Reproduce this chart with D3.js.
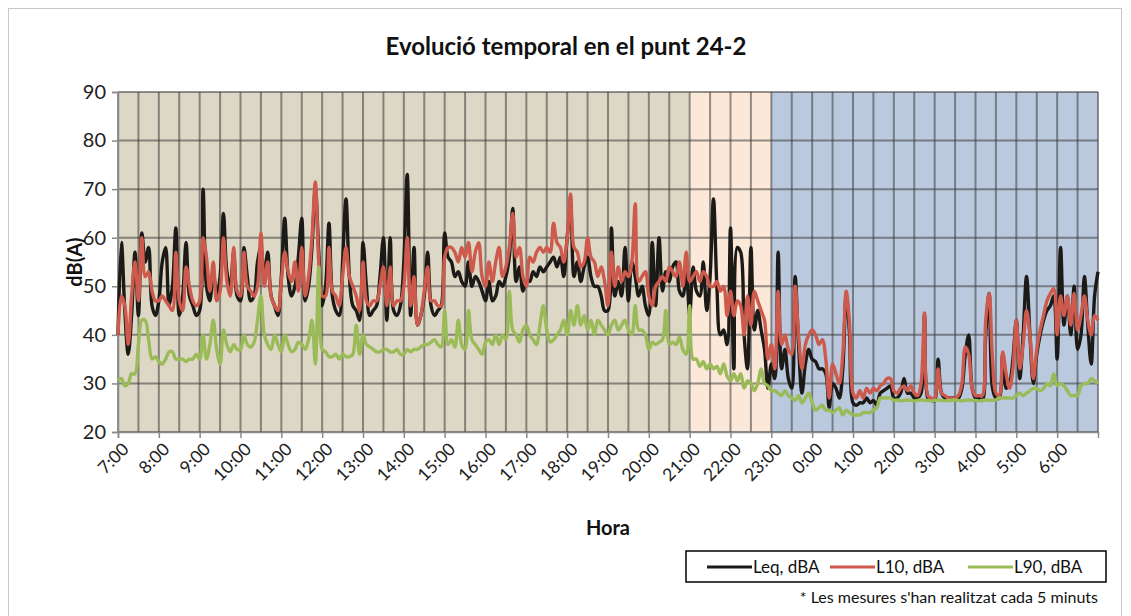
<!DOCTYPE html>
<html>
<head>
<meta charset="utf-8">
<script src="https://cdn.jsdelivr.net/npm/d3@7"></script>
<style>
  body { margin: 0; background: #fff; }
  svg { display: block; font-family: Lato, "Open Sans", sans-serif; }
</style>
</head>
<body>
<div id="chart"></div>
<script>
// hourly labels, one every 12 readings (5 min each)
const hourLabels = ['7:00', '8:00', '9:00', '10:00', '11:00', '12:00', '13:00', '14:00', '15:00',
  '16:00', '17:00', '18:00', '19:00', '20:00', '21:00', '22:00', '23:00', '0:00', '1:00', '2:00',
  '3:00', '4:00', '5:00', '6:00'];
const yTicks = [20, 30, 40, 50, 60, 70, 80, 90];

// periods as reading indexes (day 7-21h, evening 21-23h, night 23-7h)
const periodNames = ['dia', 'vespre', 'nit'];
const periodStart = [0, 168, 192];
const periodEnd = [168, 192, 288];

const seriesNames = ['Leq, dBA', 'L10, dBA', 'L90, dBA'];

const leq = [
  40, 59, 45, 36, 44, 57, 44, 61, 55, 58, 46, 44,
  47, 55, 58, 46, 50, 62, 44, 48, 59, 48, 46, 44,
  45, 70, 50, 47, 53, 48, 52, 65, 53, 50, 57, 48,
  47, 58, 52, 47, 48, 55, 58, 52, 57, 48, 46, 44,
  52, 64, 52, 48, 50, 56, 64, 47, 50, 58, 70, 57,
  46, 50, 63, 48, 45, 44, 55, 68, 52, 46, 45, 43,
  59, 50, 44, 45, 46, 52, 60, 43, 60, 45, 44, 46,
  55, 73, 44, 58, 42, 44, 48, 57, 46, 44, 45, 46,
  61, 56, 55, 52, 53, 51, 50, 55, 50, 52, 51, 49,
  47, 51, 47, 48, 51, 50, 52, 56, 66, 51, 54, 49,
  51, 51, 53, 52, 54, 53, 54, 55, 56, 54, 56, 52,
  60, 66, 52, 55, 51, 54, 56, 52, 50, 50, 48, 45,
  45, 62, 48, 51, 48, 58, 47, 55, 52, 48, 50, 46,
  44, 59, 46, 60, 49, 53, 51, 54, 55, 49, 48, 53,
  44, 54, 49, 48, 55, 45, 52, 68, 50, 40, 41, 38,
  62, 33, 58, 57, 40, 33, 58, 41, 45, 41, 37, 29,
  34, 31, 57, 33, 37, 31, 29, 52, 38, 28, 34, 37,
  35, 34.5, 33, 33, 32, 25, 30, 29, 27, 33, 48, 40,
  26, 25.5, 26, 26, 27, 26, 26.5, 25.5, 28, 28.5, 29, 29.5,
  27, 27, 28, 31, 28, 28, 27, 27, 28, 44, 27, 26.5,
  26.5, 35, 28, 27, 27, 27, 27, 27, 29, 36, 40, 29,
  27, 27, 26.5, 40, 48.5, 29, 27, 27, 36, 29, 30, 35,
  43, 31, 40, 52, 40, 30, 36, 40, 43, 45, 46, 48,
  35, 58, 42, 48, 40, 50, 37, 40, 52, 42, 34, 48, 53
];

const l10 = [
  40, 48, 46, 38, 48, 55, 47, 60, 52, 53, 49, 47,
  47, 48, 47, 46, 45, 57, 47, 45, 54, 50, 47, 46,
  47, 60, 56, 49, 55, 47, 49, 60, 51, 48, 58, 49,
  48, 57, 50, 49, 48, 50, 61, 50, 55, 48, 46, 45,
  51, 57, 53, 51, 55, 49, 58, 48, 52, 60, 71.5, 55,
  48, 48, 58, 49, 48, 46, 52, 58, 52, 50, 48, 45,
  55, 47, 46, 47, 47, 50, 54, 46, 54, 46, 47, 47,
  50, 60, 46, 52, 42, 44, 49, 54, 47, 47, 46, 46,
  56, 58, 58, 57, 55, 58, 56, 59, 53, 57, 59, 52,
  50, 55, 51, 55, 58, 52, 54, 58, 65, 56, 58, 52,
  50, 56, 55, 57, 58, 57, 58, 57, 63, 59, 58, 55,
  60, 69, 58, 57, 54, 55, 60, 56, 55, 52, 54, 51,
  46, 57, 50, 54, 51, 53, 52, 55, 67, 51, 52, 53,
  48, 46, 50, 51, 52, 51, 54, 53, 52, 55, 50, 57,
  51, 52, 53, 51, 53, 52, 50, 50, 51, 49, 50, 44,
  49, 44, 47, 46, 40, 48, 42, 49, 47, 45, 43, 35,
  38, 33, 49, 38, 40, 37, 36, 50, 40, 33, 38, 40,
  41, 40, 38, 39, 35, 27, 34, 32, 30, 36, 49, 42,
  28, 27, 28.5, 27, 29, 28, 29, 28.5, 29.5, 30, 31, 31,
  28.5, 28, 29, 29.5, 28.5, 29.5, 28, 27.5, 30, 44.5, 27.5, 27,
  27, 33, 28, 27.5, 27, 27, 27, 27.5, 30, 37.5, 36, 29,
  27.5, 27.5, 27.5, 43, 48.5, 35, 28, 27.5, 36.5, 32, 29, 33,
  43, 33, 38, 45, 40, 31, 37, 41, 44, 47, 48.5, 49.5,
  40, 48, 44, 48, 42, 48.5, 41, 44, 48, 43, 40, 44, 43
];

const l90 = [
  30.5, 31, 29.5, 30, 32, 32, 38, 43, 43, 39, 35, 35.5,
  34.5, 34, 35, 36.5, 36.5, 35, 35, 35, 34.5, 35, 35, 36,
  35, 40, 35, 38, 43, 37, 34, 41, 38, 36.5, 38, 37,
  37, 40, 38, 37.5, 38.5, 43, 48, 40, 38, 37, 40, 38,
  36.5, 40, 38, 36.5, 37, 38.5, 38, 37, 39, 43, 34, 54,
  37, 36.5, 35.5, 35.5, 36, 35, 36, 35.5, 35.5, 36, 42, 36,
  40, 38, 37.5, 37, 36.5, 36.5, 37, 37, 36.5, 36.5, 37, 36,
  36, 37, 36.5, 37, 37, 37.5, 38, 38, 38.5, 39, 38, 37.5,
  45, 38, 39, 37.5, 43, 38, 37, 45, 39, 38, 37, 36,
  38.5, 39, 38, 40, 38, 40, 39, 49, 41, 40, 38.5, 41,
  42, 40, 39, 38, 42, 46, 41, 38.5, 39, 40, 41, 43,
  40, 45, 42, 46, 42, 44, 41, 43, 40, 43, 42, 41,
  40, 42, 43, 41, 42, 43, 41, 40, 46, 41, 41, 40,
  37, 38.5, 38, 38.5, 39, 45, 38, 38.5, 38, 39.5, 37, 36,
  46, 35, 35, 33.5, 34.5, 33, 34, 33, 33.5, 32, 34, 31.5,
  30.5, 32, 30.5, 32, 29, 30.5, 30, 28.5, 30, 33, 30, 29.5,
  28.5, 28.5, 28, 27.5, 28.5, 27.5, 27, 26.5, 27.5, 26, 27, 28,
  26, 24.5, 25, 25.5, 24.5, 24.5, 24, 24.5, 25, 23.5, 24.5, 24,
  23.5, 23.5, 23.5, 24, 24, 24, 24.5, 25, 27, 27, 27, 27,
  26.5, 26.6, 26.4, 26.5, 26.6, 26.5, 26.4, 26.5, 26.6, 26.5, 26.5, 26.4,
  26.5, 26.6, 26.5, 26.4, 26.5, 26.5, 26.6, 26.5, 26.4, 26.5, 26.6, 26.5,
  26.5, 26.4, 26.5, 26.6, 26.5, 26.5, 26.6, 27, 27, 27, 27, 27,
  27.5, 28, 27.5, 28, 28.5, 29, 29, 28.5, 29, 30, 29.5, 32,
  29.5, 30, 29.5, 28.5, 27.5, 27.5, 27.5, 29.5, 30, 30, 31, 30.5, 30
];

const W = 1131, H = 616;
const plot = { left: 118, right: 1098, top: 92, bottom: 432 };
const periodColor = { dia: '#ddd8c5', vespre: '#fce8d8', nit: '#bac9de' };
const seriesColor = ['#1c1a17', '#cd5a4c', '#9bbb59'];

const svg = d3.select('#chart').append('svg')
  .attr('width', W)
  .attr('height', H);

// chart frame
svg.append('rect')
  .attr('x', 8.5).attr('y', 8.5)
  .attr('width', 1113).attr('height', 612)
  .attr('fill', '#fff')
  .attr('stroke', '#c8c8c8');

const x = d3.scaleLinear().domain([0, 288]).range([plot.left, plot.right]);
const y = d3.scaleLinear().domain([20, 90]).range([plot.bottom, plot.top]);

// period backgrounds
svg.append('g').selectAll('rect')
  .data(periodNames)
  .join('rect')
  .attr('x', (d, i) => x(periodStart[i]))
  .attr('y', plot.top)
  .attr('width', (d, i) => x(periodEnd[i]) - x(periodStart[i]))
  .attr('height', plot.bottom - plot.top)
  .attr('fill', d => periodColor[d]);

// grid: every 30 min and every 10 dB
const grid = svg.append('g')
  .attr('stroke', 'rgba(60,60,60,0.55)')
  .attr('stroke-width', 2);
grid.selectAll('.v')
  .data(d3.range(0, 289, 6))
  .join('line')
  .attr('class', 'v')
  .attr('x1', d => x(d)).attr('x2', d => x(d))
  .attr('y1', plot.top).attr('y2', plot.bottom);
grid.selectAll('.h')
  .data(yTicks)
  .join('line')
  .attr('class', 'h')
  .attr('x1', plot.left).attr('x2', plot.right)
  .attr('y1', d => y(d)).attr('y2', d => y(d));

// y axis
const yAxis = svg.append('g')
  .attr('transform', `translate(${plot.left},0)`)
  .call(d3.axisLeft(y).tickValues(yTicks).tickSize(6).tickPadding(6));
yAxis.select('.domain').attr('stroke', '#8a8a8a').attr('stroke-width', 1.5);
yAxis.selectAll('.tick line').attr('stroke', '#8a8a8a').attr('stroke-width', 1.5);
yAxis.selectAll('.tick text')
  .attr('font-size', 20)
  .attr('fill', '#222')
  .attr('font-family', 'Lato, sans-serif');

// x axis with hourly labels
const xAxis = svg.append('g')
  .attr('transform', `translate(0,${plot.bottom})`)
  .call(d3.axisBottom(x)
    .tickValues(hourLabels.map((d, i) => i * 12))
    .tickFormat((d, i) => hourLabels[i])
    .tickSize(6));
xAxis.select('.domain').attr('stroke', '#8a8a8a').attr('stroke-width', 1.5);
xAxis.selectAll('.tick line').attr('stroke', '#8a8a8a').attr('stroke-width', 1.5);
xAxis.selectAll('.tick text')
  .attr('font-size', 17.5)
  .attr('fill', '#222')
  .attr('font-family', 'Lato, sans-serif')
  .attr('text-anchor', 'end')
  .attr('dy', 0)
  .attr('transform', 'translate(5,12) rotate(-45)');

// lines
const line = d3.line()
  .x((d, i) => x(i))
  .y(d => y(d))
  .curve(d3.curveCatmullRom.alpha(0.5));

svg.append('g')
  .attr('fill', 'none')
  .attr('stroke-width', 3.4)
  .attr('stroke-linejoin', 'round')
  .selectAll('path')
  .data([leq, l10, l90])
  .join('path')
  .attr('stroke', (d, i) => seriesColor[i])
  .attr('d', line);

// titles
svg.append('text')
  .attr('x', 566).attr('y', 55)
  .attr('text-anchor', 'middle')
  .attr('font-size', 24)
  .attr('font-weight', 'bold')
  .attr('fill', '#111')
  .text('Evolució temporal en el punt 24-2');

svg.append('text')
  .attr('transform', `translate(82,${(plot.top + plot.bottom) / 2}) rotate(-90)`)
  .attr('text-anchor', 'middle')
  .attr('font-size', 20)
  .attr('font-weight', 'bold')
  .attr('fill', '#111')
  .text('dB(A)');

svg.append('text')
  .attr('x', 608).attr('y', 535)
  .attr('text-anchor', 'middle')
  .attr('font-size', 20)
  .attr('font-weight', 'bold')
  .attr('fill', '#111')
  .text('Hora');

// legend
const legend = svg.append('g').attr('transform', 'translate(686,551)');
legend.append('rect')
  .attr('width', 420).attr('height', 31)
  .attr('fill', '#fff')
  .attr('stroke', '#000')
  .attr('stroke-width', 1.5);
const legendX = [21, 144, 282];
const item = legend.selectAll('.item')
  .data(seriesNames)
  .join('g')
  .attr('class', 'item')
  .attr('transform', (d, i) => `translate(${legendX[i]},16)`);
item.append('line')
  .attr('x1', 0).attr('x2', 45)
  .attr('stroke', (d, i) => seriesColor[i])
  .attr('stroke-width', 3);
item.append('text')
  .attr('x', 46).attr('dy', '0.35em')
  .attr('font-size', 17)
  .attr('fill', '#111')
  .text(d => d);

svg.append('text')
  .attr('x', 1098).attr('y', 603)
  .attr('text-anchor', 'end')
  .attr('font-size', 16)
  .attr('fill', '#111')
  .text("* Les mesures s'han realitzat cada 5 minuts");
</script>
</body>
</html>
